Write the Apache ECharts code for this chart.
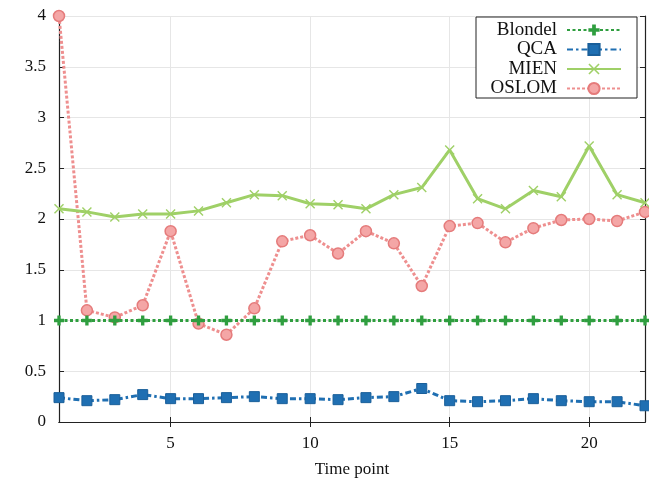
<!DOCTYPE html>
<html>
<head>
<meta charset="utf-8">
<script src="https://cdn.jsdelivr.net/npm/echarts@6/dist/echarts.min.js"></script>
<style>
  html, body { margin: 0; padding: 0; background: #fff; }
  #chart { width: 649px; height: 480px; }
</style>
</head>
<body>
<div id="chart"></div>
<script>
// Time points 1..22
const timePoints = [1, 2, 3, 4, 5, 6, 7, 8, 9, 10, 11, 12, 13, 14, 15, 16, 17, 18, 19, 20, 21, 22];

const blondel = [1, 1, 1, 1, 1, 1, 1, 1, 1, 1, 1, 1, 1, 1, 1, 1, 1, 1, 1, 1, 1, 1];
const qca = [0.24, 0.21, 0.22, 0.27, 0.23, 0.23, 0.24, 0.25, 0.23, 0.23, 0.22,
             0.24, 0.25, 0.33, 0.21, 0.20, 0.21, 0.23, 0.21, 0.20, 0.20, 0.16];
const mien = [2.10, 2.07, 2.02, 2.05, 2.05, 2.08, 2.16, 2.24, 2.23, 2.15, 2.14,
              2.10, 2.24, 2.31, 2.68, 2.20, 2.10, 2.28, 2.22, 2.72, 2.24, 2.16];
const oslom = [4.00, 1.10, 1.03, 1.15, 1.88, 0.97, 0.86, 1.12, 1.78, 1.84, 1.66,
               1.88, 1.76, 1.34, 1.93, 1.96, 1.77, 1.91, 1.99, 2.00, 1.98, 2.07];

const xTicks = [5, 10, 15, 20];

const pair = (ys) => timePoints.map((t, i) => [t, ys[i]]);

const FONT = '"Liberation Serif", "DejaVu Serif", serif';
const PLUS = 'path://M-1,-3H1V-1H3V1H1V3H-1V1H-3V-1H-1Z';
const CROSS = 'path://M0,1L1,0L5,4L9,0L10,1L6,5L10,9L9,10L5,6L1,10L0,9L4,5Z';

const chart = echarts.init(document.getElementById('chart'), null, { renderer: 'canvas' });

const baseX = {
  type: 'value', min: 1, max: 22,
  axisLine: { show: true, lineStyle: { color: '#222', width: 1.2 } },
  axisTick: { show: true, inside: true, length: 5, customValues: xTicks, lineStyle: { color: '#222' } },
  splitLine: { show: false }
};
const baseY = {
  type: 'value', min: 0, max: 4, interval: 0.5,
  axisLine: { show: true, lineStyle: { color: '#222', width: 1.2 } },
  axisTick: { show: true, inside: true, length: 5, lineStyle: { color: '#222' } },
  splitLine: { show: false }
};

chart.setOption({
  animation: false,
  backgroundColor: '#fff',
  grid: { left: 59, right: 4, top: 16, bottom: 58, outerBoundsMode: 'none', containLabel: false },
  legend: {
    right: 12, top: 17,
    orient: 'vertical',
    align: 'right',
    backgroundColor: '#fff',
    borderColor: '#222',
    borderWidth: 1,
    padding: [3.5, 15, 0, 6],
    itemWidth: 54,
    itemHeight: 14,
    itemGap: 0.5,
    formatter: (name) => '{a|' + name + '}',
    textStyle: {
      fontFamily: FONT, fontSize: 19, color: '#111',
      rich: { a: { width: 75, height: 17, lineHeight: 17, align: 'right', fontFamily: FONT, fontSize: 19, color: '#111', padding: [0, 5, 0, 0] } }
    },
    data: ['Blondel', 'QCA', 'MIEN', 'OSLOM']
  },
  xAxis: [
    Object.assign({}, baseX, {
      position: 'bottom',
      name: 'Time point', nameLocation: 'middle', nameGap: 39,
      nameTextStyle: { fontFamily: FONT, fontSize: 17, color: '#111' },
      axisLabel: { customValues: xTicks, margin: 13, fontFamily: FONT, fontSize: 17, color: '#111' },
      splitLine: { show: true, lineStyle: { color: '#e6e6e6', width: 1 } }
    }),
    Object.assign({}, baseX, { position: 'top', axisLabel: { show: false } })
  ],
  yAxis: [
    Object.assign({}, baseY, {
      position: 'left',
      axisLabel: { margin: 13, fontFamily: FONT, fontSize: 17, color: '#111' },
      splitLine: { show: true, lineStyle: { color: '#e6e6e6', width: 1 } }
    }),
    Object.assign({}, baseY, { position: 'right', axisLabel: { show: false } })
  ],
  series: [
    {
      name: 'OSLOM', type: 'line', data: pair(oslom), z: 2,
      symbol: 'circle', symbolSize: 11,
      lineStyle: { color: '#ee8f8f', width: 3, type: [3, 2] },
      itemStyle: { color: '#f4a6a6', borderColor: '#e57b7b', borderWidth: 1.5 }
    },
    {
      name: 'MIEN', type: 'line', data: pair(mien), z: 3,
      symbol: CROSS, symbolSize: 10,
      lineStyle: { color: '#9fd067', width: 3 },
      itemStyle: { color: '#9fd067' }
    },
    {
      name: 'Blondel', type: 'line', data: pair(blondel), z: 4,
      symbol: PLUS, symbolSize: 10,
      lineStyle: { color: '#2f9e3f', width: 3, type: [3, 2.5] },
      itemStyle: { color: '#2f9e3f' }
    },
    {
      name: 'QCA', type: 'line', data: pair(qca), z: 5,
      symbol: 'rect', symbolSize: 10,
      lineStyle: { color: '#1f6fb2', width: 3, type: [6, 3, 2.5, 3] },
      itemStyle: { color: '#1f6fb2', borderColor: '#1a5f9a', borderWidth: 1 }
    }
  ]
});
</script>
</body>
</html>
